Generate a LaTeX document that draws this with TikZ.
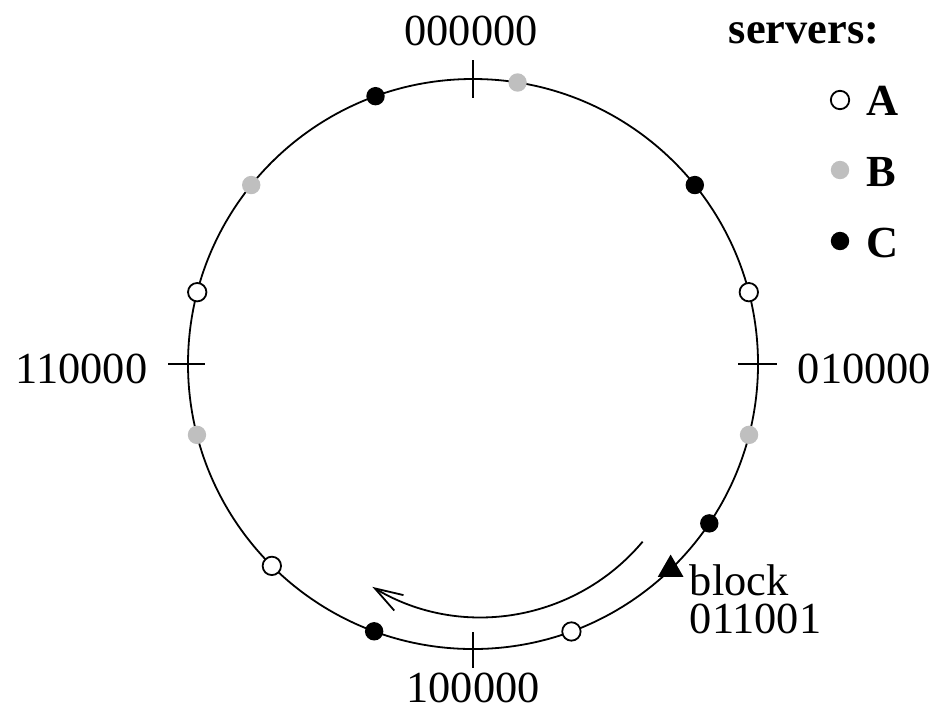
\documentclass[tikz,border=0pt]{standalone}
\usepackage{fontspec}
\setmainfont{Liberation Serif}
\usetikzlibrary{shapes.geometric,arrows.meta,calc}
\begin{document}
\begin{tikzpicture}[x=0.25pt,y=-0.25pt,
  ring/.style={line width=0.45pt},
  tickmark/.style={line width=0.55pt},
  dot/.style={circle,inner sep=0pt,minimum size=4.6pt,line width=0.45pt},
  srvA/.style={dot,draw=black,fill=white},
  srvB/.style={dot,fill=black!25},
  srvC/.style={dot,fill=black},
  lbl/.style={font=\fontsize{11.1}{13}\selectfont,inner sep=0pt},
  key/.style={font=\fontsize{11.1}{13}\selectfont\bfseries,inner sep=0pt},
  blockmark/.style={regular polygon,regular polygon sides=3,fill=black,inner sep=0pt,minimum size=7.4pt},
  walk/.style={line width=0.45pt,-{Straight Barb[length=7pt,width=4.5pt,line width=0.45pt]}}]
\useasboundingbox (0,0) rectangle (937,707);

% the hash ring
\coordinate (c) at (473,364);
\draw[ring] (c) circle[radius=285];

% ticks at the four quarter positions
\draw[tickmark] ($(c)+(0,-304)$) -- ($(c)+(0,-266)$);
\draw[tickmark] ($(c)+(0,268)$) -- ($(c)+(0,304)$);
\draw[tickmark] ($(c)+(-305,0)$) -- ($(c)+(-268,0)$);
\draw[tickmark] ($(c)+(265,0)$) -- ($(c)+(304,0)$);

\node[lbl,anchor=base] (top) at (471,45) {000000};
\node[lbl,anchor=base] (bottom) at (473,702) {100000};
\node[lbl,anchor=base east] (left) at (148,383) {110000};
\node[lbl,anchor=base west] (right) at (797,383) {010000};

% server positions on the ring (angle clockwise from the top)
\foreach \a/\s/\n in {9/srvB/b1, 51.1/srvC/c1, 75.4/srvA/a1, 104.4/srvB/b2,
    124/srvC/c2, 159.8/srvA/a2, 200.3/srvC/c3, 224.9/srvA/a3,
    255.6/srvB/b3, 284.6/srvA/a4, 308.9/srvB/b4, 340/srvC/c4}
  \node[\s] (\n) at ($(c)+({\a-90}:285)$) {};

% the block and the walk to its server
\node[blockmark] (blk) at ($(c)+(46.1:285)$) {};
\node[font=\fontsize{11.1}{9.5}\selectfont,inner sep=0pt,align=left,anchor=north west]
  (blkname) at (689,564) {block\\011001};
\coordinate (ac) at (481,406);
\draw[walk] ($(ac)+(40:211)$) arc[start angle=40,end angle=121,radius=211];

% legend
\node[key,anchor=base east] (hdr) at (880,43) {servers:};
\node[srvA] (kA) at (840,100) {};
\node[srvB] (kB) at (840,170) {};
\node[srvC] (kC) at (840,241) {};
\node[key,anchor=base west] (tA) at (866,115) {A};
\node[key,anchor=base west] (tB) at (866,186) {B};
\node[key,anchor=base west] (tC) at (866,257) {C};
\end{tikzpicture}
\end{document}
